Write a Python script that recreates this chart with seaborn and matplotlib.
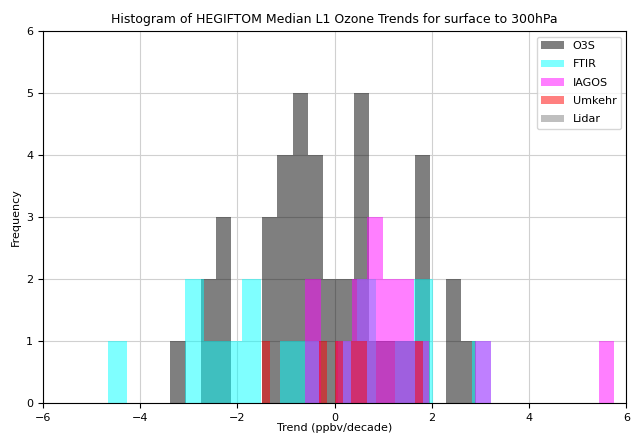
import matplotlib
matplotlib.use("Agg")
import matplotlib.pyplot as plt
import seaborn as sns

# median L1 ozone trends (ppbv/decade), surface to 300hPa
o3s = [-3.38, -2.68, -2.52, -2.39, -2.27, -2.15, -1.45, -1.33, -1.21,
       -1.12, -1.04, -0.97, -0.90, -0.83, -0.76, -0.70, -0.64, -0.58,
       -0.51, -0.43, -0.35, -0.27, -0.18, 0.02, 0.12, 0.31,
       0.43, 0.50, 0.56, 0.62, 0.68, 0.86, 1.15, 1.49,
       1.70, 1.78, 1.85, 1.93, 2.36, 2.52, 2.91]
ftir = [-4.66, -2.97, -2.81, -2.45, -2.08, -1.82, -1.63, -0.92, -0.55,
        0.24, 0.58, 0.74, 1.41, 1.77, 1.90, 3.21]
iagos = [-0.60, -0.41, 0.18, 0.45, 0.59, 0.74, 0.83, 0.92, 1.06, 1.21,
         1.39, 1.53, 1.80, 3.05, 5.75]
umkehr = [-1.49, -0.25, 0.08, 0.41, 0.58, 1.82]
lidar = [-0.12, -0.05]

series_names = ["O3S", "FTIR", "IAGOS", "Umkehr", "Lidar"]
series_data = [o3s, ftir, iagos, umkehr, lidar]
series_colors = ["black", "cyan", "magenta", "red", "gray"]

fig = plt.figure(figsize=(6.32, 4.36), dpi=100)
ax = fig.add_axes([0.068, 0.076, 0.923, 0.853])

for name, data, color in zip(series_names, series_data, series_colors):
    sns.histplot(x=data, bins=20, color=color, alpha=0.5, linewidth=0,
                 label=name, ax=ax)

ax.set_xlim(-6, 6)
ax.set_ylim(0, 6)
ax.grid(True, color="#d0d0d0", linewidth=0.8)
ax.set_axisbelow(True)
ax.tick_params(labelsize=8)
ax.set_title("Histogram of HEGIFTOM Median L1 Ozone Trends for surface to 300hPa",
             fontsize=9)
ax.set_xlabel("Trend (ppbv/decade)", fontsize=8, labelpad=0.5)
ax.set_ylabel("Frequency", fontsize=8)
ax.legend(loc="upper right", fontsize=8, labelspacing=0.75)

fig.savefig("out.png", dpi=100)
